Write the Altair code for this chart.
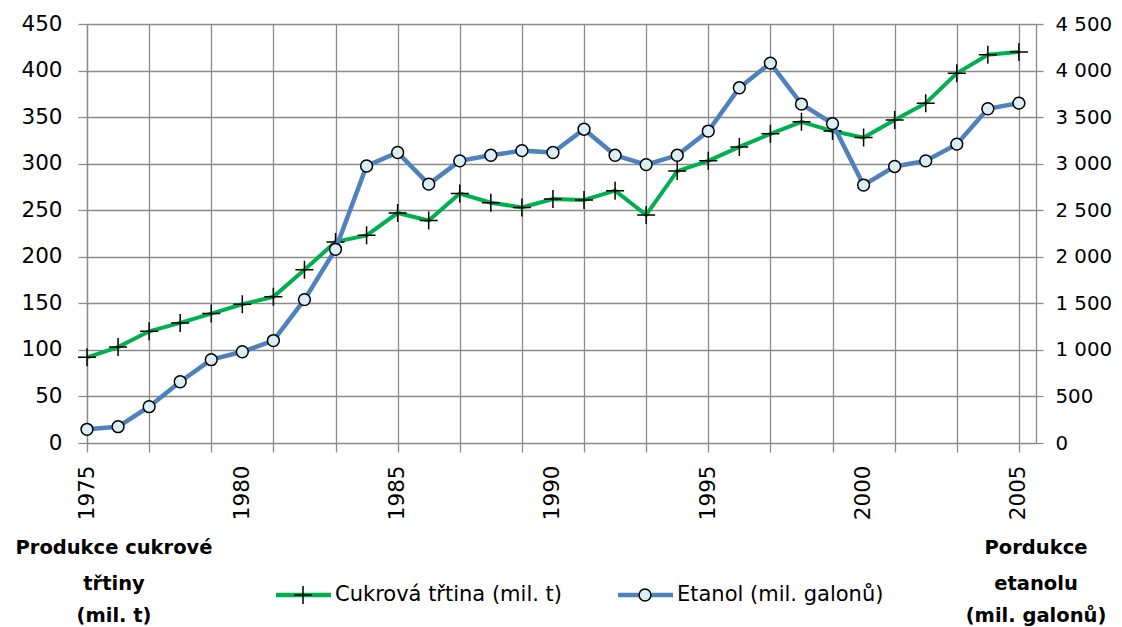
import altair as alt
import pandas as pd

years = list(range(1975, 2006))
label_years = list(range(1975, 2006, 5))
cane = [92, 103, 120, 129, 139, 149, 157, 186, 216, 223,
        247, 239, 268, 258, 253, 262, 261, 271, 245, 292,
        303, 318, 332, 345, 335, 328, 347, 365, 397, 417,
        420]
ethanol = [147, 175, 390, 658, 895, 980, 1100, 1540, 2080, 2975,
           3120, 2780, 3030, 3090, 3140, 3120, 3370, 3090, 2990, 3090,
           3350, 3815, 4080, 3640, 3430, 2770, 2970, 3030, 3210, 3590,
           3650]
left_ticks = list(range(0, 451, 50))
right_ticks = list(range(0, 4501, 500))
left_title = ["Produkce cukrové", "třtiny", "(mil. t)"]
right_title = ["Pordukce", "etanolu", "(mil. galonů)"]
series_names = ["Cukrová třtina (mil. t)", "Etanol (mil. galonů)"]

df = pd.DataFrame({"year": years, "cane": cane, "ethanol": ethanol})

GREEN = "#00B050"
BLUE = "#4F81BD"
GRID = "#8A8A8A"
FONT = "DejaVu Sans"
FS = 21.5
CROSS = "M-1,0H1M0,-1V1"

W, H = 949, 419
xscale = alt.Scale(domain=[1975, 2005.55], nice=False, zero=False)

# axis 1: tick marks + vertical gridlines at every year, no labels
x_grid = alt.X(
    "year:Q", scale=xscale,
    axis=alt.Axis(
        orient="bottom", values=years, labels=False, title=None,
        tickSize=9, tickColor=GRID, tickWidth=1.3,
        grid=True, gridColor=GRID, gridWidth=1.3, domain=False,
    ),
)
# axis 2: labels every five years
x_lab = alt.X(
    "year:Q", scale=xscale,
    axis=alt.Axis(
        orient="bottom", values=label_years, format="d", title=None, labelOverlap=False,
        labelAngle=270, labelAlign="right", labelBaseline="middle",
        labelPadding=22, ticks=False, grid=False, domain=False,
        labelFlush=False,
        labelFont=FONT, labelFontSize=FS, labelColor="#000000",
    ),
)

yleft = alt.Y(
    "cane:Q",
    scale=alt.Scale(domain=[0, 450], nice=False),
    axis=alt.Axis(
        orient="left", values=left_ticks, title=None, labelOverlap=False,
        tickSize=9, tickColor=GRID, tickWidth=1.3,
        grid=True, gridColor=GRID, gridWidth=1.3,
        domain=True, domainColor=GRID, domainWidth=1.3,
        labelPadding=16, labelFont=FONT, labelFontSize=FS, labelColor="#000000",
    ),
)

yright = alt.Y(
    "ethanol:Q",
    scale=alt.Scale(domain=[0, 4500], nice=False),
    axis=alt.Axis(
        orient="right", values=right_ticks, title=None, labelOverlap=False,
        labelExpr="replace(format(datum.value, ','), ',', ' ')",
        tickSize=7, tickColor=GRID, tickWidth=1.3,
        grid=False, domain=True, domainColor=GRID, domainWidth=1.3,
        labelPadding=12, labelFont=FONT, labelFontSize=19.8, labelColor="#000000",
    ),
)

base = alt.Chart(df)
cane_line = base.mark_line(color=GREEN, strokeWidth=4).encode(x=x_grid, y=yleft)
cane_pts = base.mark_point(shape=CROSS, filled=False, stroke="#000000",
                           strokeWidth=1.5, size=324, opacity=1).encode(x="year:Q", y="cane:Q")
eth_line = base.mark_line(color=BLUE, strokeWidth=4.5).encode(x=x_lab, y=yright)
eth_pts = base.mark_circle(fill="#DAEEF3", stroke="#000000", strokeWidth=1.5,
                           size=140, opacity=1).encode(x="year:Q", y="ethanol:Q")

cane_layer = alt.layer(cane_line, cane_pts)
eth_layer = alt.layer(eth_line, eth_pts)

# legend and bottom titles (pixel positions relative to plot origin)
dummy = alt.Chart(pd.DataFrame({"k": [0]}))
extras = []
LY = 571
extras.append(dummy.mark_rule(color=GREEN, strokeWidth=4.5).encode(
    x=alt.value(189), x2=alt.value(244), y=alt.value(LY)))
extras.append(dummy.mark_point(shape=CROSS, filled=False, stroke="#000000",
                               strokeWidth=1.5, size=324, opacity=1).encode(
    x=alt.value(216), y=alt.value(LY)))
extras.append(dummy.mark_text(align="left", baseline="middle", font=FONT, fontSize=21,
                              color="#000000").encode(
    x=alt.value(248), y=alt.value(LY), text=alt.value(series_names[0])))
extras.append(dummy.mark_rule(color=BLUE, strokeWidth=4.5).encode(
    x=alt.value(531), x2=alt.value(586), y=alt.value(LY)))
extras.append(dummy.mark_circle(fill="#DAEEF3", stroke="#000000", strokeWidth=1.5,
                                size=140, opacity=1).encode(
    x=alt.value(558), y=alt.value(LY)))
extras.append(dummy.mark_text(align="left", baseline="middle", font=FONT, fontSize=21,
                              color="#000000").encode(
    x=alt.value(590), y=alt.value(LY), text=alt.value(series_names[1])))

ys = [524, 560, 592]
for i, line in enumerate(left_title):
    extras.append(dummy.mark_text(align="center", baseline="middle", font=FONT,
                                  fontSize=19.5, fontWeight="bold", color="#000000").encode(
        x=alt.value(27), y=alt.value(ys[i]), text=alt.value(line)))
for i, line in enumerate(right_title):
    extras.append(dummy.mark_text(align="center", baseline="middle", font=FONT,
                                  fontSize=19.5, fontWeight="bold", color="#000000").encode(
        x=alt.value(949), y=alt.value(ys[i]), text=alt.value(line)))

chart = alt.layer(cane_layer, eth_layer, *extras).resolve_scale(
    y="independent"
).resolve_axis(x="independent").properties(
    width=W, height=H,
    padding={"left": 79, "top": 16, "right": 78, "bottom": 184},
    autosize=alt.AutoSizeParams(type="none"),
).configure_view(stroke=None)

chart.save("out.html", embed_options={"renderer": "svg", "actions": False})
